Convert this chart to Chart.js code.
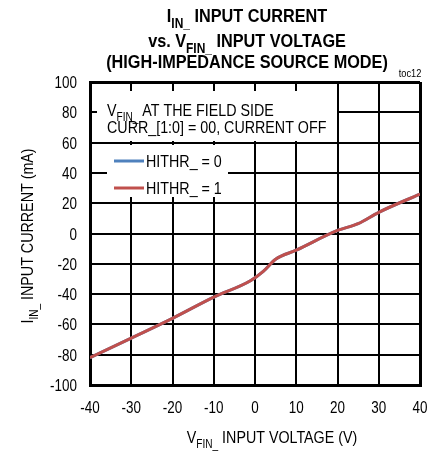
<!DOCTYPE html>
<html lang="en">
<head>
<meta charset="UTF-8">
<title>IIN_ Input Current vs. VFIN_ Input Voltage</title>
<script src="https://cdn.jsdelivr.net/npm/chart.js"></script>
<style>
  body { margin: 0; background: #fff; }
  #wrap { width: 443px; height: 453px; }
</style>
</head>
<body>
<div id="wrap"><canvas id="chart" width="443" height="453"></canvas></div>
<script>
// Data
const inputVoltage = [-40, -30, -20, -10, -1, 2, 5, 10, 20, 25, 30, 40];
const currentHithr0 = [-82, -69, -56, -42, -31, -25, -17, -11, 2, 6.5, 14, 26];
const currentHithr1 = [-82, -69, -56, -42, -31, -25, -17, -11, 2, 6.5, 14, 26];
const seriesLabels = ['HITHR_ = 0', 'HITHR_ = 1'];
const seriesColors = ['#4F81BD', '#C0504D'];
const xRange = [-40, 40];
const yRange = [-100, 100];

const FONT = "'Liberation Sans', Arial, sans-serif";
const SQUEEZE = 0.84; // no narrow font installed, so squeeze Liberation Sans

// draw text with subscripts: parts = [[text, isSub], ...]
function drawRich(ctx, parts, x, y, size, bold, align, squeeze) {
  const k = squeeze || SQUEEZE;
  const w = bold ? 'bold ' : '';
  const subSize = Math.round(size * 0.72);
  let total = 0;
  parts.forEach(p => {
    ctx.font = w + (p[1] ? subSize : size) + 'px ' + FONT;
    total += ctx.measureText(p[0]).width;
  });
  ctx.save();
  ctx.translate(x, y);
  ctx.scale(k, 1);
  let cx = align === 'center' ? -total / 2 : (align === 'right' ? -total : 0);
  ctx.textAlign = 'left';
  ctx.textBaseline = 'alphabetic';
  parts.forEach(p => {
    ctx.font = w + (p[1] ? subSize : size) + 'px ' + FONT;
    ctx.fillText(p[0], cx, p[1] ? size * 0.3 : 0);
    cx += ctx.measureText(p[0]).width;
  });
  ctx.restore();
}

const decorPlugin = {
  id: 'decor',
  beforeDatasetsDraw(chart) {
    const ctx = chart.ctx;
    ctx.save();
    // white boxes hiding the grid behind the note and the legend
    ctx.fillStyle = '#fff';
    ctx.fillRect(97, 91, 240, 50);
    ctx.fillRect(107, 145, 121, 52);
    ctx.fillStyle = '#000';
    drawRich(ctx, [['V', false], ['FIN_', true], [' AT THE FIELD SIDE', false]], 107, 116, 17, false, 'left');
    drawRich(ctx, [['CURR_[1:0] = 00, CURRENT OFF', false]], 107, 133, 17, false, 'left');
    // legend
    chart.data.datasets.forEach((ds, i) => {
      const ly = 161 + i * 27;
      ctx.strokeStyle = ds.borderColor;
      ctx.lineWidth = 3;
      ctx.beginPath();
      ctx.moveTo(114, ly);
      ctx.lineTo(144, ly);
      ctx.stroke();
      ctx.fillStyle = '#000';
      drawRich(ctx, [[ds.label, false]], 146, ly + 6, 17, false, 'left');
    });
    ctx.restore();
  },
  afterDraw(chart) {
    const ctx = chart.ctx;
    const xs = chart.scales.x, ys = chart.scales.y;
    ctx.save();
    ctx.fillStyle = '#000';
    // tick labels
    xs.ticks.forEach(t => {
      drawRich(ctx, [[String(t.value), false]], xs.getPixelForValue(t.value), 413, 16, false, 'center');
    });
    ys.ticks.forEach(t => {
      drawRich(ctx, [[String(t.value), false]], 77, ys.getPixelForValue(t.value) + 6, 16, false, 'right');
    });
    // title
    drawRich(ctx, [['I', false], ['IN_', true], [' INPUT CURRENT', false]], 247, 22, 19, true, 'center', 0.855);
    drawRich(ctx, [['vs. V', false], ['FIN_', true], [' INPUT VOLTAGE', false]], 247, 47, 19, true, 'center', 0.855);
    drawRich(ctx, [['(HIGH-IMPEDANCE SOURCE MODE)', false]], 247, 68, 19, true, 'center', 0.855);
    drawRich(ctx, [['toc12', false]], 410, 77, 11, false, 'center');
    // axis titles
    drawRich(ctx, [['V', false], ['FIN_', true], [' INPUT VOLTAGE (V)', false]], 272, 443, 17, false, 'center');
    ctx.translate(33, 236);
    ctx.rotate(-Math.PI / 2);
    drawRich(ctx, [['I', false], ['IN_', true], [' INPUT CURRENT (mA)', false]], 0, 0, 17, false, 'center');
    ctx.restore();
  }
};

function edgeWidth(range) {
  return c => (c.tick && (c.tick.value === range[0] || c.tick.value === range[1])) ? 3 : 2;
}

new Chart(document.getElementById('chart'), {
  type: 'line',
  data: {
    datasets: [
      {
        label: seriesLabels[0],
        data: inputVoltage.map((v, i) => ({ x: v, y: currentHithr0[i] })),
        borderColor: seriesColors[0],
        borderWidth: 3,
        pointRadius: 0,
        order: 2,
        cubicInterpolationMode: 'monotone'
      },
      {
        label: seriesLabels[1],
        data: inputVoltage.map((v, i) => ({ x: v, y: currentHithr1[i] })),
        borderColor: seriesColors[1],
        borderWidth: 3,
        pointRadius: 0,
        order: 1,
        cubicInterpolationMode: 'monotone'
      }
    ]
  },
  options: {
    responsive: false,
    animation: false,
    events: [],
    layout: { padding: { top: 82, right: 23, left: 0, bottom: 0 } },
    plugins: { legend: { display: false }, title: { display: false }, tooltip: { enabled: false } },
    scales: {
      x: {
        type: 'linear',
        min: xRange[0],
        max: xRange[1],
        afterFit: s => { s.height = 68; },
        ticks: { stepSize: 10, display: false },
        grid: { color: '#000', lineWidth: edgeWidth(xRange), drawTicks: false },
        border: { color: '#000', width: 3 }
      },
      y: {
        min: yRange[0],
        max: yRange[1],
        afterFit: s => { s.width = 90; },
        ticks: { stepSize: 20, display: false },
        grid: { color: '#000', lineWidth: edgeWidth(yRange), drawTicks: false },
        border: { color: '#000', width: 3 }
      }
    }
  },
  plugins: [decorPlugin]
});
</script>
</body>
</html>
